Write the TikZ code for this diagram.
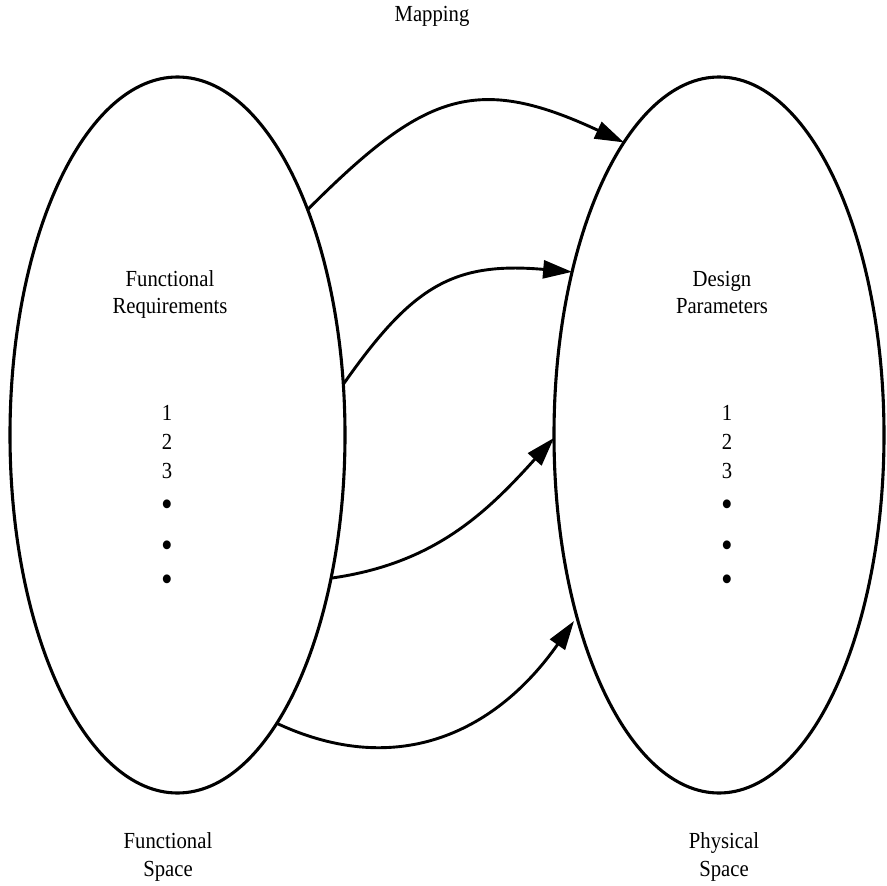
\documentclass[tikz,border=0pt]{standalone}
\usepackage{fontspec}
\usepackage{graphicx}
\setmainfont{Liberation Serif}[FakeStretch=0.9]
\usetikzlibrary{arrows.meta,shapes.geometric}
\begin{document}
\begin{tikzpicture}[x=1pt,y=1pt,
  space/.style={draw, ellipse, line width=3.1pt, inner sep=0pt, outer sep=0pt,
    minimum width=335pt, minimum height=716pt},
  txt/.style={font=\fontsize{23}{28}\selectfont, inner sep=0pt, anchor=base},
  dot/.style={font=\fontsize{23}{23}\selectfont, inner sep=0pt},
  map/.style={line width=2.9pt, -{Triangle[length=29pt,width=18pt]}},
]
\useasboundingbox (0,0) rectangle (887,-886);

% the two spaces
\node[space] (fr) at (177.5,-435) {};
\node[space, minimum width=330pt] (dp) at (719,-435) {};

% title
\node[txt] (mapping) at (432,-21) {Mapping};

% functional requirements
\node[txt] (frA) at (170,-286) {Functional};
\node[txt] (frB) at (170,-313) {Requirements};
\node[txt] (fr1) at (167,-420) {1};
\node[txt] (fr2) at (167,-449) {2};
\node[txt] (fr3) at (167,-478) {3};
\node[dot] (frd1) at (167,-508) {\scalebox{1.6}{•}};
\node[dot] (frd2) at (167,-549) {\scalebox{1.6}{•}};
\node[dot] (frd3) at (167,-583) {\scalebox{1.6}{•}};

% design parameters
\node[txt] (dpA) at (722,-286) {Design};
\node[txt] (dpB) at (722,-313) {Parameters};
\node[txt] (dp1) at (727,-420) {1};
\node[txt] (dp2) at (727,-449) {2};
\node[txt] (dp3) at (727,-478) {3};
\node[dot] (dpd1) at (727,-508) {\scalebox{1.6}{•}};
\node[dot] (dpd2) at (727,-549) {\scalebox{1.6}{•}};
\node[dot] (dpd3) at (727,-583) {\scalebox{1.6}{•}};

% captions under the spaces
\node[txt] (fsA) at (168,-848) {Functional};
\node[txt] (fsB) at (168,-876) {Space};
\node[txt] (psA) at (724,-848) {Physical};
\node[txt] (psB) at (724,-876) {Space};

% mapping arrows
\draw[map] (fr.60)    to[out=45,in=155,looseness=1.3] (dp.108.4);
\draw[map] (fr.17.2)  to[out=55,in=175,looseness=1.2] (dp.132.4);
\draw[map] (fr.-43.8) to[out=8,in=228] (dp.181);
\draw[map, shorten >=5pt] (fr.-71.2) to[out=-25,in=235,looseness=1.1] (dp.232);
\end{tikzpicture}
\end{document}
